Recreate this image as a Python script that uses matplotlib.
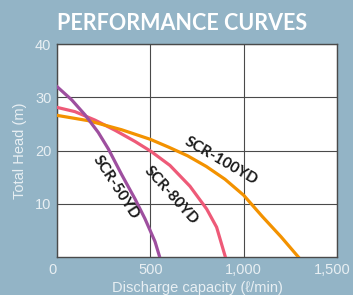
import matplotlib
matplotlib.use("Agg")
from matplotlib import pyplot as plt
from matplotlib import transforms

# values
flow_50 = [0, 79, 150, 221, 275, 346, 418, 471, 525, 550]
head_50 = [32.0, 29.5, 26.7, 23.4, 20.3, 15.5, 10.9, 7.2, 2.9, 0]

flow_80 = [0, 96, 204, 311, 418, 505, 605, 712, 802, 855, 902]
head_80 = [28.1, 27.3, 25.7, 23.8, 21.7, 19.8, 17.2, 13.3, 9.0, 5.6, 0]

flow_100 = [0, 168, 346, 500, 600, 700, 800, 900, 1000, 1100, 1200, 1293]
head_100 = [26.6, 25.6, 23.9, 22.1, 20.6, 19.0, 17.0, 14.6, 11.6, 7.6, 3.8, 0]

x_ticks = [0, 500, 1000, 1500]
x_ticklabels = ["0", "500", "1,000", "1,500"]
y_ticks = [10, 20, 30, 40]

bg = "#93b4c6"
light = "#e8eff3"

fig = plt.figure(figsize=(3.53, 2.95), dpi=100, facecolor=bg)
ax = fig.add_axes([0.1615, 0.1288, 0.7932, 0.722])
ax.set_facecolor("white")

ax.plot(flow_80, head_80, color="#ee5a78", lw=2.3, zorder=3)
ax.plot(flow_100, head_100, color="#f39200", lw=2.3, zorder=4)
ax.plot(flow_50, head_50, color="#9e4f9f", lw=2.3, zorder=5)

ax.set_xlim(0, 1500)
ax.set_ylim(0, 40)
ax.set_xticks(x_ticks)
ax.set_xticklabels(x_ticklabels)
ax.set_yticks(y_ticks)
ax.grid(True, color="#4a4a4a", lw=0.8)
ax.set_axisbelow(True)
for s in ax.spines.values():
  s.set_color("#4a4a4a")
  s.set_linewidth(1.0)
ax.tick_params(length=0, pad=4, labelsize=10.5, labelcolor=light)
for lab in ax.get_xticklabels() + ax.get_yticklabels():
  lab.set_family("Liberation Sans")

# nudge first and last x labels like the original
xl = ax.get_xticklabels()
xl[0].set_transform(xl[0].get_transform() + transforms.ScaledTranslation(-5/100, 0, fig.dpi_scale_trans))
xl[-1].set_transform(xl[-1].get_transform() + transforms.ScaledTranslation(-5/100, 0, fig.dpi_scale_trans))

ax.set_ylabel("Total Head (m)", fontsize=10.5, color=light, family="Liberation Sans", labelpad=6)
ax.set_xlabel("Discharge capacity (ℓ/min)", fontsize=10.5, color=light, family="Liberation Sans", labelpad=3)

lbl = dict(fontsize=11, fontweight="bold", color="#1a1a1a", family="Lato",
           ha="center", va="center", rotation_mode="anchor", zorder=6)
ax.text(316, 13.0, "SCR-50YD", rotation=-57, **lbl)
ax.text(613, 11.6, "SCR-80YD", rotation=-48, **lbl)
ax.text(881, 18.0, "SCR-100YD", rotation=-30, **lbl)

fig.text(182/353, 1 - 24/295, "PERFORMANCE CURVES", fontsize=15.5, fontweight="bold",
         color="white", family="Lato", ha="center", va="center")

fig.savefig("out.png", dpi=100, facecolor=bg)
